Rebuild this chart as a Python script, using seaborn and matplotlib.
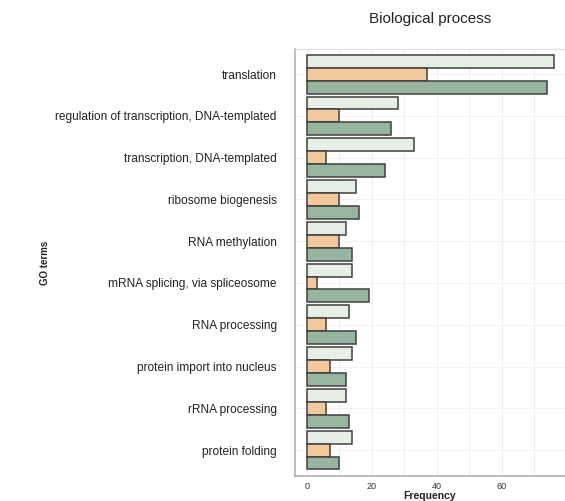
import matplotlib
matplotlib.use("Agg")
import matplotlib.pyplot as plt
import seaborn as sns
import pandas as pd
from matplotlib.ticker import MultipleLocator

terms = ["translation", "regulation of transcription, DNA-templated",
         "transcription, DNA-templated", "ribosome biogenesis",
         "RNA methylation", "mRNA splicing, via spliceosome",
         "RNA processing", "protein import into nucleus",
         "rRNA processing", "protein folding"]
series_names = ["All", "Up", "Down"]
all_vals = [76, 28, 33, 15, 12, 14, 13, 14, 12, 14]
up_vals = [37, 10, 6, 10, 10, 3, 6, 7, 6, 7]
down_vals = [74, 26, 24, 16, 14, 19, 15, 12, 13, 10]
xticks = [0, 20, 40, 60]

rows = []
for name, vals in zip(series_names, [all_vals, up_vals, down_vals]):
    for t, v in zip(terms, vals):
        rows.append({"term": t, "group": name, "freq": v})
df = pd.DataFrame(rows)

sns.set_theme(style="white")
plt.rcParams['font.family'] = ['Liberation Sans', 'DejaVu Sans']

fig = plt.figure(figsize=(5.65, 5.01), dpi=100)
ax = fig.add_axes([0.522, 0.05, 0.478, 0.852])

palette = {"All": "#e5efe5", "Up": "#f3c89d", "Down": "#98b5a0"}
sns.barplot(data=df, y="term", x="freq", hue="group", order=terms,
            hue_order=series_names, palette=palette, orient="h",
            width=0.93, edgecolor="#404040", linewidth=1.1, saturation=1,
            legend=False, ax=ax, zorder=3)

ax.set_xlim(-3.7, 79.4)
ax.set_ylim(9.62, -0.6)
ax.set_xticks(xticks)
ax.set_xticklabels([str(x) for x in xticks], fontsize=6.5, color="#333333")
ax.xaxis.set_minor_locator(MultipleLocator(10))
ax.tick_params(axis="y", labelsize=8.6, colors="#333333", length=3, width=0.7, pad=10)
ax.tick_params(axis="x", length=2, width=0.7, pad=2)
ax.tick_params(axis="x", which="minor", length=0)
for lab in ax.get_yticklabels():
    lab.set_color("#222222")

ax.grid(True, axis="x", which="both", color="#eeeeee", linewidth=0.8, zorder=0)
ax.grid(True, axis="y", which="major", color="#f2f2f2", linewidth=0.8, zorder=0)
ax.set_axisbelow(True)

for side in ["left", "bottom"]:
    ax.spines[side].set_color("#b0b0b0")
    ax.spines[side].set_linewidth(1.2)
ax.spines["top"].set_color("#e0e0e0")
ax.spines["top"].set_linewidth(1.0)
ax.spines["right"].set_visible(False)

ax.set_xlabel("Frequency", fontsize=7.5, fontweight="bold", color="#222222", labelpad=0)
ax.set_ylabel("")
fig.text(0.08, 0.475, "GO terms", rotation=90, fontsize=7, fontweight="bold",
         color="#222222", ha="center", va="center")
ax.set_title("Biological process", fontsize=11, color="#222222", pad=19)

fig.savefig("out.png", dpi=100)
